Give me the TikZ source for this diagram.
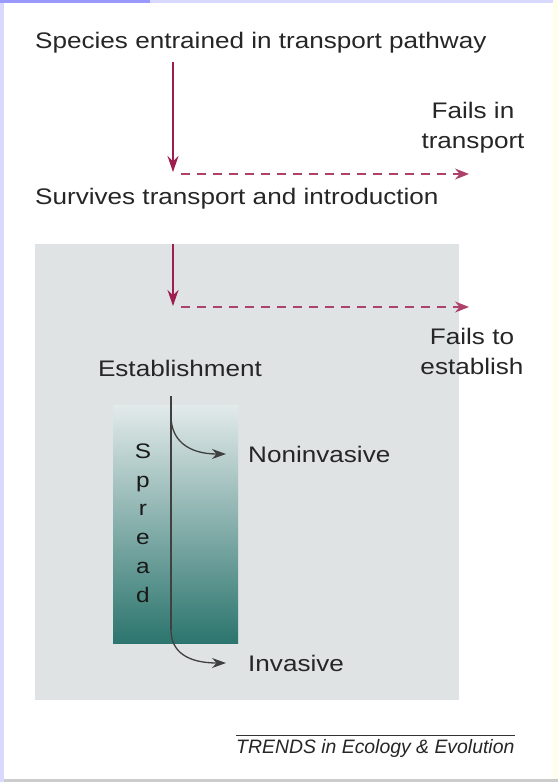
\documentclass[tikz,border=0pt]{standalone}
\usepackage{fontspec}
\setmainfont{Liberation Sans}[FakeStretch=1.16]
\newfontfamily\trendsfont{Liberation Sans}
\usetikzlibrary{arrows.meta}

\definecolor{crimson}{HTML}{9E1F4E}
\definecolor{boxgray}{HTML}{DFE3E3}
\definecolor{tealdark}{HTML}{2C756E}
\definecolor{tealmid}{HTML}{72A39E}
\definecolor{teallight}{HTML}{E2EAEA}

\begin{document}
\begin{tikzpicture}[x=1pt,y=-1pt]
\tikzstyle{every node}+=[inner sep=0pt]
\tikzstyle{txt}=[font=\fontsize{22.5}{30}\selectfont, text=black!85]
\tikzstyle{pass}=[crimson, line width=1.4pt, -{Stealth[length=16pt,width=11pt]}]
\tikzstyle{fail}=[crimson!85, line width=1.4pt, dash pattern=on 9pt off 7pt, -{Stealth[length=14pt,width=11pt]}]
\tikzstyle{split}=[black!75, line width=1.3pt, -{Stealth[length=14pt,width=10pt]}]
% frame of the page
\useasboundingbox (0,0) rectangle (558,782);
\fill [white] (0,0) rectangle (558,782);
\fill [blue!15] (0,0) rectangle (4,782);
\fill [blue!15] (0,0) rectangle (558,2.5);
\fill [blue!40] (0,0) rectangle (150,2.5);
\fill [yellow!8] (553,0) rectangle (558,782);
\fill [black!20] (4,779) rectangle (558,782);
% background boxes
\fill [boxgray] (35,244) rectangle (459,700);
\shade [top color=teallight, middle color=tealmid, bottom color=tealdark] (113,405) rectangle (238,643);
% texts
\node [txt, anchor=west] (entrained) at (35,43) {Species entrained in transport pathway};
\node [txt, anchor=west] (survives) at (35,199) {Survives transport and introduction};
\node [txt, align=center] (failtrans) at (473,128) {Fails in\\transport};
\node [txt, align=center] (failest) at (472,351) {Fails to\\establish};
\node [txt] (establish) at (180,368) {Establishment};
\node [txt, anchor=west] (noninv) at (248,454) {Noninvasive};
\node [txt, anchor=west] (inv) at (248,663) {Invasive};
\node [txt, font=\fontsize{21}{28.8}\selectfont, text=black!90, align=center] (spread) at (143,523) {S\\p\\r\\e\\a\\d};
\node [anchor=west, font=\fontsize{19.4}{22}\trendsfont\itshape, text=black!85] (trends) at (236,748) {TRENDS in Ecology \& Evolution};
\draw [black!80, line width=0.9pt] ([yshift=3.5pt]trends.north west) -- ([yshift=3.5pt]trends.north east);
% stages
\coordinate (k1) at (173,172);
\coordinate (k2) at (173,306);
\coordinate (f1) at (469,174);
\coordinate (f2) at (469,307);
\coordinate (s0) at (171,396);
\coordinate (s1) at (171,416);
\coordinate (s2) at (171,630);
\coordinate (n1) at (226,454);
\coordinate (n2) at (226,663);
\draw [pass] (173,62) -- (k1);
\draw [fail] (181,174) -- (f1);
\draw [pass] (173,244) -- (k2);
\draw [fail] (181,307) -- (f2);
\draw [black!75, line width=1.3pt] (s0) -- (s2);
\draw [split] (s1) .. controls (171,440) and (188,454) .. (n1);
\draw [split] (s2) .. controls (171,652) and (188,663) .. (n2);
\end{tikzpicture}
\end{document}
